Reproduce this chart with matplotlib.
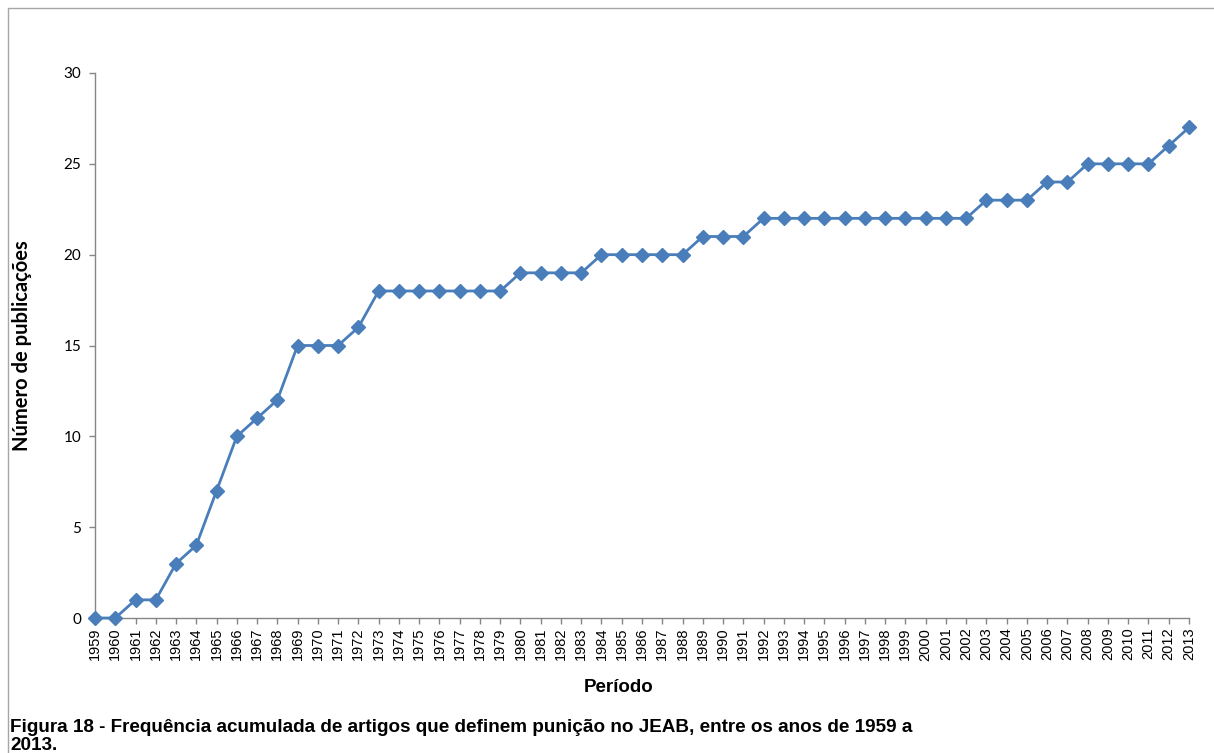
import matplotlib
matplotlib.use("Agg")
import matplotlib.pyplot as plt
from matplotlib.patches import Rectangle

# cumulative number of articles per year
years = list(range(1959, 2014))
counts = [0, 0, 1, 1, 3, 4, 7, 10, 11, 12,
          15, 15, 15, 16, 18, 18, 18, 18, 18, 18,
          18, 19, 19, 19, 19, 20, 20, 20, 20, 20,
          21, 21, 21, 22, 22, 22, 22, 22, 22, 22,
          22, 22, 22, 22, 23, 23, 23, 24, 24, 25,
          25, 25, 25, 26, 27]
y_ticks = [0, 5, 10, 15, 20, 25, 30]

W, H = 1214, 753
fig = plt.figure(figsize=(W / 100, H / 100), dpi=100)
ax = fig.add_axes([95 / W, 1 - 618 / H, (1189 - 95) / W, (618 - 73) / H])

line_col = "#4A7EBB"
axis_col = "#868686"

x = list(range(len(years)))
ax.plot(x, counts, color=line_col, linewidth=2, marker="D",
        markersize=7.5, markerfacecolor=line_col, markeredgecolor=line_col,
        clip_on=False, zorder=3)

ax.set_xlim(0, len(years) - 1)
ax.set_ylim(0, 30)
ax.set_xticks(x)
ax.set_xticklabels([str(y) for y in years], rotation=90,
                   fontsize=10.5, family="Liberation Sans")
ax.set_yticks(y_ticks)
ax.set_yticklabels([str(v) for v in y_ticks], fontsize=11, family="Lato")

for side in ["top", "right"]:
    ax.spines[side].set_visible(False)
for side in ["left", "bottom"]:
    ax.spines[side].set_color(axis_col)
    ax.spines[side].set_linewidth(1)
ax.tick_params(axis="both", colors=axis_col, labelcolor="black",
               length=4, width=1, direction="out")
ax.tick_params(axis="y", pad=6)
ax.tick_params(axis="x", pad=3)

ax.set_ylabel("Número de publicações", fontsize=14.5, fontweight="bold",
              family="Lato", va="center")
ax.yaxis.set_label_coords((22 - 95) / 1094, 0.5)
ax.set_xlabel("Período", fontsize=13.5, fontweight="bold",
              family="Liberation Sans", va="center")
ax.xaxis.set_label_coords((619 - 95) / 1094, (618 - 688) / 545)

# outer chart frame
fig.patches.append(Rectangle((8 / W, -0.1), 1.2, 1 - 8 / H + 0.1,
                             transform=fig.transFigure, fill=False,
                             edgecolor="#A6A6A6", linewidth=1))

fig.text(10 / W, 1 - 732 / H,
         "Figura 18 - Frequência acumulada de artigos que definem punição no JEAB, entre os anos de 1959 a",
         fontsize=13.6, fontweight="bold", family="Liberation Sans", va="baseline")
fig.text(10 / W, 1 - 750 / H, "2013.",
         fontsize=13.6, fontweight="bold", family="Liberation Sans", va="baseline")

fig.savefig("out.png", dpi=100)
